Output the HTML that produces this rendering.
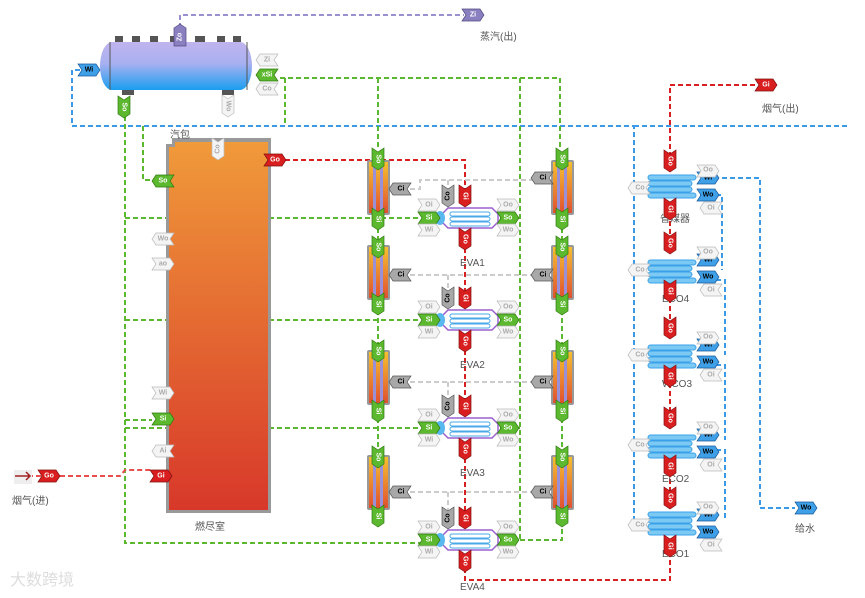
<!DOCTYPE html>
<html><head><meta charset="utf-8"><style>
body{margin:0;background:#fff}
svg{display:block;font-family:"Liberation Sans","Noto Sans CJK SC",sans-serif}
.t{font-size:7px;font-weight:bold;text-anchor:middle;dominant-baseline:central}
.lb{font-size:10px;fill:#555}
</style></head><body>
<svg width="865" height="598" viewBox="0 0 865 598">
<defs>
<linearGradient id="dr" x1="0" y1="0" x2="0" y2="1"><stop offset="0" stop-color="#c0b4ee"/><stop offset="0.45" stop-color="#a8b0f0"/><stop offset="1" stop-color="#1a9ef0"/></linearGradient>
<linearGradient id="fu" x1="0" y1="0" x2="0" y2="1"><stop offset="0" stop-color="#f09a3a"/><stop offset="1" stop-color="#d8382a"/></linearGradient>
<linearGradient id="tb" x1="0" y1="0" x2="0" y2="1"><stop offset="0" stop-color="#f5c030"/><stop offset="1" stop-color="#e05030"/></linearGradient>
<g id="tube"><rect x="-11" y="0" width="23" height="55" rx="2" fill="#999"/><rect x="-9" y="2" width="4" height="51" fill="url(#tb)"/><rect x="-5" y="2" width="3" height="51" fill="#9a90d8"/><rect x="-2" y="2" width="4" height="51" fill="url(#tb)"/><rect x="2" y="2" width="3" height="51" fill="#9a90d8"/><rect x="5" y="2" width="5" height="51" fill="url(#tb)"/></g>
<g id="eva"><path d="M-22,-10 h44 l6,6 v8 l-6,6 h-44 l-6,-6 v-8z" fill="#fff" stroke="#9a60d0" stroke-width="1.5"/><rect x="-20" y="-6" width="40" height="4" rx="2" fill="none" stroke="#4aa8e8"/><rect x="-20" y="-1" width="40" height="4" rx="2" fill="none" stroke="#4aa8e8"/><rect x="-20" y="4" width="40" height="4" rx="2" fill="none" stroke="#4aa8e8"/><ellipse cx="-30" cy="0" rx="5" ry="7" fill="#5ab8f0"/></g>
<g id="eco"><rect x="-24" y="-10" width="48" height="5" rx="2.5" fill="#7ccaf4" stroke="#3aa0e8"/><rect x="-24" y="-4" width="44" height="5" rx="2.5" fill="#7ccaf4" stroke="#3aa0e8"/><rect x="-24" y="2" width="44" height="5" rx="2.5" fill="#7ccaf4" stroke="#3aa0e8"/><rect x="-24" y="8" width="48" height="5" rx="2.5" fill="#7ccaf4" stroke="#3aa0e8"/></g>
<polygon id="hg" points="0,-6 18,-6 22,0 18,6 0,6 4,0" fill="#5cb82e" stroke="#2e7a10" stroke-width=".7"/>
<polygon id="hgL" points="22,-6 4,-6 0,0 4,6 22,6 18,0" fill="#5cb82e" stroke="#2e7a10" stroke-width=".7"/>
<polygon id="hp" points="0,-6 18,-6 22,0 18,6 0,6 4,0" fill="#8a80c0" stroke="#504880" stroke-width=".7"/>
<polygon id="vp" points="-6,0 0,-4 6,0 6,18 -6,18" fill="#8a80c0" stroke="#504880" stroke-width=".7"/>
<polygon id="hw" points="0,-6 18,-6 22,0 18,6 0,6 4,0" fill="#f4f4f4" stroke="#bbb" stroke-width=".7"/>
<polygon id="hgl" points="22,-6 4,-6 0,0 4,6 22,6 18,0" fill="#f4f4f4" stroke="#bbb" stroke-width=".7"/>
<polygon id="hd" points="22,-6 4,-6 0,0 4,6 22,6 18,0" fill="#a8a8a8" stroke="#555" stroke-width=".7"/>
<polygon id="hb" points="0,-6 18,-6 22,0 18,6 0,6 4,0" fill="#3fa0e8" stroke="#1a5a9a" stroke-width=".7"/>
<polygon id="hr" points="0,-6 18,-6 22,0 18,6 0,6 4,0" fill="#d81e1e" stroke="#801010" stroke-width=".7"/>
<polygon id="vg" points="-6,0 0,4 6,0 6,18 0,22 -6,18" fill="#5cb82e" stroke="#2e7a10" stroke-width=".7"/>
<polygon id="vr" points="-6,0 0,4 6,0 6,18 0,22 -6,18" fill="#d81e1e" stroke="#801010" stroke-width=".7"/>
<polygon id="vd" points="-6,0 0,4 6,0 6,18 0,22 -6,18" fill="#a8a8a8" stroke="#555" stroke-width=".7"/>
<polygon id="vw" points="-6,0 0,4 6,0 6,18 0,22 -6,18" fill="#f4f4f4" stroke="#bbb" stroke-width=".7"/>
</defs>

<g fill="none" stroke-width="2" stroke-dasharray="5,3">
<path d="M180,28 V15 H464" stroke="#9a90d0"/>
<path d="M80,70 H72 V126 H634 V520 M634,126 H850" stroke="#3a9ae8"/>
<path d="M722,178 H760 V508 H795 M700,195 H722 V270 M700,280 H725 V355 M700,365 H725 V440 M700,450 H725 V520" stroke="#3a9ae8"/>
<path d="M125,100 V543 H420 M125,218 H420 M125,320 H420 M125,428 H420 M143,126 V180 H155 M125,420 H152" stroke="#5cb82e"/>
<path d="M280,78 H560 M285,78 V126 M378,78 V148 M520,78 V540 H500 M560,78 V148 M520,218 H500 M520,320 H500 M520,428 H500 M378,228 V245 M378,310 V350 M378,410 V455 M562,228 V245 M562,310 V345 M562,410 V455 M520,540 H562 V520" stroke="#5cb82e"/>
<path d="M28,476 H120 L125,470 H150" stroke="#e85050"/>
<path d="M285,160 H465 V190 M465,240 V292 M465,342 V400 M465,450 V512 M465,560 V580 H670 V540 M670,500 V460 M670,420 V380 M670,335 V295 M670,250 V210 M670,165 V85 H755" stroke="#d82020"/>
<path d="M410,189 H420 V180 H535 M410,275 H535 M410,382 H535 M410,492 H535 M448,180 V190 M448,275 V292 M448,382 V400 M448,492 V512" stroke="#ccc"/>
</g>

<g fill="#555"><rect x="115" y="36" width="8" height="6"/><rect x="132" y="36" width="8" height="6"/><rect x="150" y="36" width="8" height="6"/><rect x="170" y="36" width="14" height="6"/><rect x="195" y="36" width="10" height="6"/><rect x="217" y="36" width="8" height="6"/><rect x="233" y="36" width="8" height="6"/><rect x="122" y="90" width="12" height="5"/><rect x="222" y="90" width="12" height="5"/></g>
<rect x="100" y="42" width="152" height="48" rx="12" ry="24" fill="url(#dr)"/>
<line x1="110" y1="42" x2="110" y2="90" stroke="#555"/><line x1="247" y1="42" x2="247" y2="90" stroke="#555"/>

<path d="M172,138 H271 V513 H166 V144 H172 Z" fill="#999"/>
<path d="M175,142 H268 V510 H169 V147 H175 Z" fill="url(#fu)"/>
<text x="170" y="138" class="lb" font-size="9">汽包</text>
<text x="195" y="530" class="lb">燃尽室</text>

<use href="#tube" x="378" y="160"/><use href="#tube" x="378" y="245"/><use href="#tube" x="378" y="350"/><use href="#tube" x="378" y="455"/>
<use href="#tube" x="562" y="160"/><use href="#tube" x="562" y="245"/><use href="#tube" x="562" y="350"/><use href="#tube" x="562" y="455"/>

<use href="#eva" x="470" y="218"/><use href="#eva" x="470" y="320"/><use href="#eva" x="470" y="428"/><use href="#eva" x="470" y="540"/>
<text x="460" y="266" class="lb">EVA1</text><text x="460" y="368" class="lb">EVA2</text><text x="460" y="476" class="lb">EVA3</text><text x="460" y="590" class="lb">EVA4</text>

<use href="#eco" x="672" y="185"/><use href="#eco" x="672" y="270"/><use href="#eco" x="672" y="355"/><use href="#eco" x="672" y="445"/><use href="#eco" x="672" y="522"/>
<text x="660" y="222" class="lb" font-size="9">省煤器</text><text x="662" y="302" class="lb">ECO4</text><text x="662" y="387" class="lb">WCO3</text><text x="662" y="482" class="lb">ECO2</text><text x="662" y="557" class="lb">ECO1</text>

<use href="#vp" x="180" y="28"/><text x="180" y="37" class="t" fill="#fff" transform="rotate(-90 180 37)">Zo</text>
<use href="#hb" x="78" y="70"/><text x="89" y="70" class="t">Wi</text>
<use href="#hgL" x="256" y="75"/><text x="267" y="75" class="t" fill="#fff">xSi</text>
<use href="#hgl" x="256" y="60"/><text x="267" y="60" class="t" fill="#aaa">Zi</text>
<use href="#hgl" x="256" y="89"/><text x="267" y="89" class="t" fill="#aaa">Co</text>
<use href="#vg" x="124" y="96"/><text x="124" y="107" class="t" fill="#fff" transform="rotate(90 124 107)">So</text>
<use href="#vw" x="228" y="95"/><text x="228" y="106" class="t" fill="#aaa" transform="rotate(90 228 106)">Wo</text>
<use href="#vw" x="218" y="138"/><text x="218" y="149" class="t" fill="#aaa" transform="rotate(-90 218 149)">Co</text>
<use href="#hr" x="264" y="160"/><text x="275" y="160" class="t" fill="#fff">Go</text>
<use href="#hgL" x="152" y="181"/><text x="163" y="181" class="t" fill="#fff">So</text>
<use href="#hgl" x="152" y="239"/><text x="163" y="239" class="t" fill="#aaa">Wo</text>
<use href="#hw" x="152" y="264"/><text x="163" y="264" class="t" fill="#aaa">ao</text>
<use href="#hw" x="152" y="393"/><text x="163" y="393" class="t" fill="#aaa">Wi</text>
<use href="#hg" x="152" y="419"/><text x="163" y="419" class="t" fill="#fff">Si</text>
<use href="#hgl" x="152" y="451"/><text x="163" y="451" class="t" fill="#aaa">Ai</text>
<use href="#hr" x="150" y="476"/><text x="161" y="476" class="t" fill="#fff">Gi</text>
<use href="#hr" x="38" y="476"/><text x="49" y="476" class="t" fill="#fff">Go</text>
<rect x="14" y="470" width="18" height="14" fill="#eee"/>
<path d="M15,476 H30 M26,472 L30,476 L26,480" stroke="#a02020" stroke-width="1.5" fill="none"/>
<text x="12" y="504" class="lb">烟气(进)</text>

<g>
<use href="#vg" x="378" y="148"/><use href="#vg" x="378" y="208"/><use href="#vg" x="378" y="236"/><use href="#vg" x="378" y="293"/>
<use href="#vg" x="378" y="340"/><use href="#vg" x="378" y="400"/><use href="#vg" x="378" y="446"/><use href="#vg" x="378" y="505"/>
<use href="#vg" x="562" y="148"/><use href="#vg" x="562" y="208"/><use href="#vg" x="562" y="236"/><use href="#vg" x="562" y="293"/>
<use href="#vg" x="562" y="340"/><use href="#vg" x="562" y="400"/><use href="#vg" x="562" y="446"/><use href="#vg" x="562" y="505"/>
</g>
<g fill="#fff">
<text x="378" y="159" class="t" transform="rotate(90 378 159)">So</text><text x="378" y="219" class="t" transform="rotate(90 378 219)">Si</text>
<text x="378" y="247" class="t" transform="rotate(90 378 247)">So</text><text x="378" y="304" class="t" transform="rotate(90 378 304)">Si</text>
<text x="378" y="351" class="t" transform="rotate(90 378 351)">So</text><text x="378" y="411" class="t" transform="rotate(90 378 411)">Si</text>
<text x="378" y="457" class="t" transform="rotate(90 378 457)">So</text><text x="378" y="516" class="t" transform="rotate(90 378 516)">Si</text>
<text x="562" y="159" class="t" transform="rotate(90 562 159)">So</text><text x="562" y="219" class="t" transform="rotate(90 562 219)">Si</text>
<text x="562" y="247" class="t" transform="rotate(90 562 247)">So</text><text x="562" y="304" class="t" transform="rotate(90 562 304)">Si</text>
<text x="562" y="351" class="t" transform="rotate(90 562 351)">So</text><text x="562" y="411" class="t" transform="rotate(90 562 411)">Si</text>
<text x="562" y="457" class="t" transform="rotate(90 562 457)">So</text><text x="562" y="516" class="t" transform="rotate(90 562 516)">Si</text>
</g>
<use href="#hd" x="389" y="189"/><text x="401" y="189" class="t">Ci</text>
<use href="#hd" x="389" y="275"/><text x="401" y="275" class="t">Ci</text>
<use href="#hd" x="389" y="382"/><text x="401" y="382" class="t">Ci</text>
<use href="#hd" x="389" y="492"/><text x="401" y="492" class="t">Ci</text>
<use href="#hd" x="531" y="178"/><text x="543" y="178" class="t">Ci</text>
<use href="#hd" x="531" y="275"/><text x="543" y="275" class="t">Ci</text>
<use href="#hd" x="531" y="382"/><text x="543" y="382" class="t">Ci</text>
<use href="#hd" x="531" y="492"/><text x="543" y="492" class="t">Ci</text>

<g id="evt1">
<use href="#vr" x="465" y="185"/><text x="465" y="196" class="t" fill="#fff" transform="rotate(90 465 196)">Gi</text>
<use href="#vd" x="448" y="185"/><text x="448" y="196" class="t" transform="rotate(-90 448 196)">Co</text>
<use href="#vr" x="465" y="228"/><text x="465" y="239" class="t" fill="#fff" transform="rotate(90 465 239)">Go</text>
<use href="#hg" x="418" y="218"/><text x="429" y="218" class="t" fill="#fff">Si</text>
<use href="#hw" x="418" y="205"/><text x="429" y="205" class="t" fill="#aaa">Oi</text>
<use href="#hw" x="418" y="230"/><text x="429" y="230" class="t" fill="#aaa">Wi</text>
<use href="#hg" x="497" y="218"/><text x="508" y="218" class="t" fill="#fff">So</text>
<use href="#hw" x="497" y="205"/><text x="508" y="205" class="t" fill="#aaa">Oo</text>
<use href="#hw" x="497" y="230"/><text x="508" y="230" class="t" fill="#aaa">Wo</text>
</g>
<use href="#evt1" y="102"/><use href="#evt1" y="210"/><use href="#evt1" y="322"/>

<g id="ect">
<use href="#vr" x="670" y="150"/><text x="670" y="161" class="t" fill="#fff" transform="rotate(90 670 161)">Go</text>
<use href="#vr" x="670" y="198"/><text x="670" y="209" class="t" fill="#fff" transform="rotate(90 670 209)">Gi</text>
<use href="#hgl" x="628" y="188"/><text x="640" y="188" class="t" fill="#aaa">Co</text>
<use href="#hb" x="697" y="178"/><text x="708" y="178" class="t">Wi</text>
<use href="#hw" x="697" y="171"/><text x="708" y="170" class="t" fill="#aaa">Oo</text>
<use href="#hb" x="697" y="195"/><text x="708" y="195" class="t">Wo</text>
<use href="#hgl" x="700" y="208"/><text x="711" y="208" class="t" fill="#aaa">Oi</text>
</g>
<use href="#ect" y="82"/><use href="#ect" y="167"/><use href="#ect" y="257"/><use href="#ect" y="337"/>
<use href="#hb" x="795" y="508"/><text x="806" y="508" class="t">Wo</text>
<text x="795" y="532" class="lb">给水</text>
<use href="#hr" x="755" y="85"/><text x="766" y="85" class="t" fill="#fff">Gi</text>
<text x="762" y="112" class="lb">烟气(出)</text>
<use href="#hp" x="462" y="15"/><text x="473" y="15" class="t" fill="#fff">Zi</text>
<text x="480" y="40" class="lb">蒸汽(出)</text>
<text x="10" y="585" font-size="16" fill="#ddd">大数跨境</text>
</svg>
</body></html>
